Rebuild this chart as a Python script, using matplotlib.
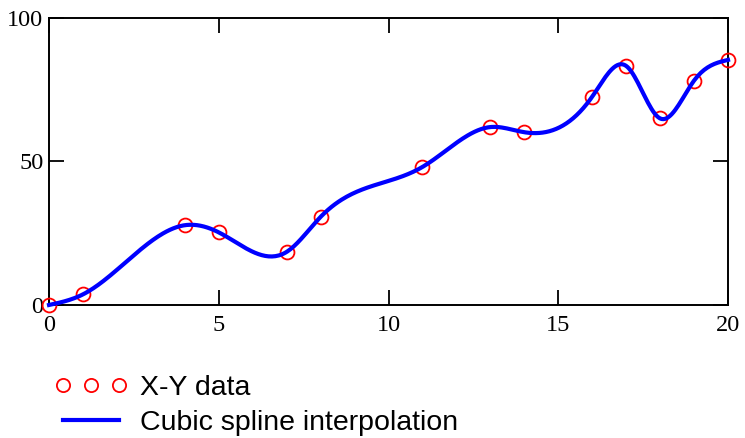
import matplotlib
matplotlib.use('Agg')
import matplotlib.pyplot as plt
import numpy as np

x_data = [0, 1, 4, 5, 7, 8, 11, 13, 14, 16, 17, 18, 19, 20]
y_data = [0, 3.7, 27.8, 25.3, 18.5, 30.7, 48.1, 62.0, 60.2, 72.6, 83.3, 65.0, 78.2, 85.4]
x_ticks = [0, 5, 10, 15, 20]
y_ticks = [0, 50, 100]


def natural_spline(xk, yk, xs):
    # natural cubic spline, second derivative zero at the ends
    xk = np.asarray(xk, float)
    yk = np.asarray(yk, float)
    n = len(xk)
    h = np.diff(xk)
    A = np.zeros((n, n))
    b = np.zeros(n)
    A[0, 0] = 1
    A[-1, -1] = 1
    for i in range(1, n - 1):
        A[i, i - 1] = h[i - 1]
        A[i, i] = 2 * (h[i - 1] + h[i])
        A[i, i + 1] = h[i]
        b[i] = 6 * ((yk[i + 1] - yk[i]) / h[i] - (yk[i] - yk[i - 1]) / h[i - 1])
    m = np.linalg.solve(A, b)
    idx = np.clip(np.searchsorted(xk, xs) - 1, 0, n - 2)
    x0, x1 = xk[idx], xk[idx + 1]
    hh = x1 - x0
    t0 = x1 - xs
    t1 = xs - x0
    return (m[idx] * t0**3 / (6 * hh) + m[idx + 1] * t1**3 / (6 * hh)
            + (yk[idx] / hh - m[idx] * hh / 6) * t0
            + (yk[idx + 1] / hh - m[idx + 1] * hh / 6) * t1)


xs = np.linspace(0, 20, 400)
ys = natural_spline(x_data, y_data, xs)

fig = plt.figure(figsize=(7.45, 4.38), dpi=100)
ax = fig.add_axes([0.0658, 0.3037, 0.9114, 0.6552])

ax.plot(x_data, y_data, 'o', mfc='none', mec='red', ms=10, mew=1.3,
        label='X-Y data', clip_on=False, zorder=3)
ax.plot(xs, ys, '-', color='blue', lw=3, label='Cubic spline interpolation',
        clip_on=False, zorder=4)

ax.set_xlim(0, 20)
ax.set_ylim(0, 100)
ax.set_xticks(x_ticks)
ax.set_yticks(y_ticks)
ax.tick_params(direction='in', length=11, width=1.3, top=True, right=True,
               labelsize=17.5, pad=4)
ax.tick_params(axis='x', pad=7)
for lab in ax.get_xticklabels() + ax.get_yticklabels():
    lab.set_family('Liberation Serif')
for s in ax.spines.values():
    s.set_linewidth(1.4)

handles, labels = ax.get_legend_handles_labels()
leg = fig.legend(handles, labels, loc='upper left', bbox_to_anchor=(0.0725, 0.143),
                 frameon=False, numpoints=3, handlelength=2.6, handletextpad=0.42,
                 labelspacing=0.3, borderaxespad=0, borderpad=0, markerscale=0.95,
                 prop={'family': 'Liberation Sans', 'size': 20.5})

fig.savefig('out.png', dpi=100)
